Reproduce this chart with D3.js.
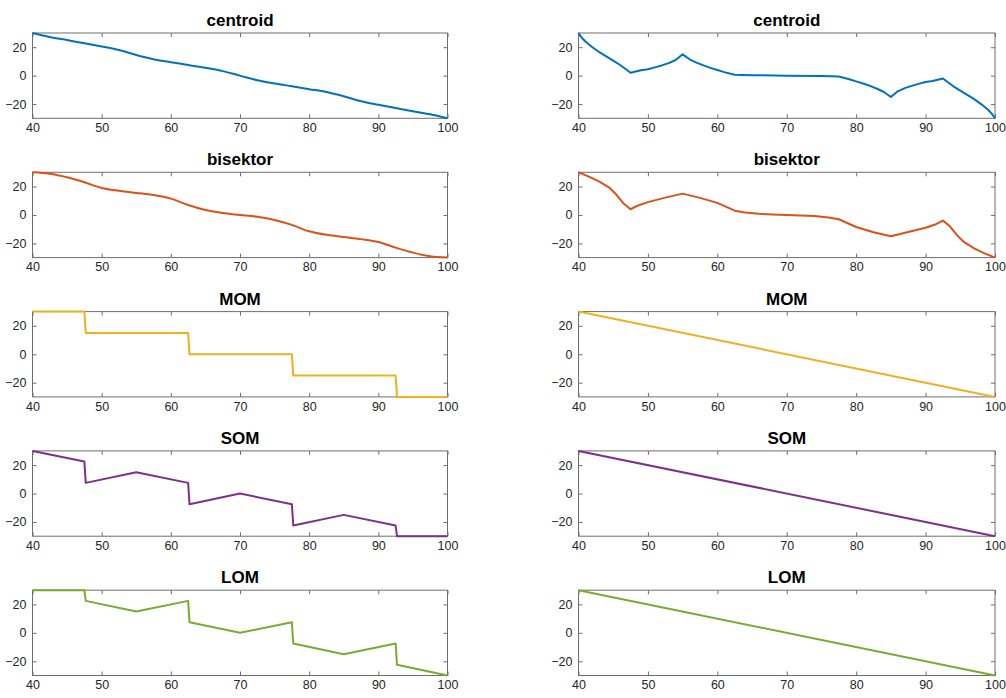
<!DOCTYPE html>
<html>
<head>
<meta charset="utf-8">
<script src="https://cdn.jsdelivr.net/npm/d3@7"></script>
<style>
  html, body { margin: 0; padding: 0; background: #fff; }
  svg { display: block; }
</style>
</head>
<body>
<svg id="chart" width="1006" height="698"></svg>
<script>
// ---- data ----
const titles = ["centroid", "bisektor", "MOM", "SOM", "LOM"];
const colors = ["#0072BD", "#D95319", "#EDB120", "#7E2F8E", "#77AC30"];
const xTicks = [40, 50, 60, 70, 80, 90, 100];
const yTicks = [-20, 0, 20];
const xDomain = [40, 100];
const yDomain = [-30, 30];

// left column
const centroidLeft = [[40,30],[42.5,27.2],[45,25],[47.5,22.8],[50,20.5],[52.5,18],[55,14.5],[57.5,11.5],[60,9.5],[62.5,7.5],[65,5.5],[67.5,3.2],[70,0],[72.5,-3.2],[75,-5.5],[77.5,-7.5],[80,-9.5],[82.5,-11.5],[85,-14.5],[87.5,-18],[90,-20.5],[92.5,-22.8],[95,-25],[97.5,-27.2],[100,-30]];
const bisektorLeft = [[40,30],[42.5,29],[45,26.5],[47.5,23],[50,19],[52.5,17],[55,15.5],[57.5,14],[60,11.5],[62.5,7],[65,3.5],[67.5,1.3],[70,0],[72.5,-1.3],[75,-3.5],[77.5,-7],[80,-11.5],[82.5,-14],[85,-15.5],[87.5,-17],[90,-19],[92.5,-23],[95,-26.5],[97.5,-29],[100,-30]];
const momLeft = [[40,30],[47.5,30],[47.7,15],[62.5,15],[62.7,0],[77.5,0],[77.7,-15],[92.5,-15],[92.7,-30],[100,-30]];
const somLeft = [[40,30],[47.5,22.5],[47.7,7.5],[55,15],[62.5,7.5],[62.7,-7.5],[70,0],[77.5,-7.5],[77.7,-22.5],[85,-15],[92.5,-22.5],[92.7,-30],[100,-30]];
const lomLeft = [[40,30],[47.5,30],[47.7,22.5],[55,15],[62.5,22.5],[62.7,7.5],[70,0],[77.5,7.5],[77.7,-7.5],[85,-15],[92.5,-7.5],[92.7,-22.5],[100,-30]];

// right column
const centroidRight = [[40,30],[40.5,26.5],[41,24],[42,20],[43,16.5],[44,13.5],[45,10.5],[46,7.5],[47.5,2],[49,3.8],[50,4.5],[51,5.8],[52,7.2],[53,8.8],[54,11],[55,15],[56,11.5],[57,9.2],[58,7.2],[59,5.5],[60,4],[61,2.5],[62.5,0.6],[65,0.3],[70,0],[75,-0.3],[77.5,-0.6],[79,-2.5],[80,-4],[81,-5.5],[82,-7.2],[83,-9.2],[84,-11.5],[85,-15],[86,-11],[87,-8.8],[88,-7.2],[89,-5.8],[90,-4.5],[91,-3.8],[92.5,-2],[94,-7.5],[95,-10.5],[96,-13.5],[97,-16.5],[98,-20],[99,-24],[99.5,-26.5],[100,-30]];
const bisektorRight = [[40,30],[41.5,27],[43,23.5],[44.5,19],[45.5,14],[46.5,8],[47.5,4],[48.5,6.5],[50,9],[52.5,12.2],[55,15],[57.5,12],[60,8.5],[62.5,3],[64,1.8],[66,0.8],[68,0.3],[70,0],[72,-0.3],[74,-0.8],[76,-1.8],[77.5,-3],[80,-8.5],[82.5,-12.2],[85,-15],[87.5,-12],[90,-9],[91.5,-6.5],[92.5,-4],[93.5,-8],[94.5,-14],[95.5,-19],[97,-23.5],[98.5,-27],[100,-30]];
const momRight = [[40,30],[100,-30]];
const somRight = [[40,30],[100,-30]];
const lomRight = [[40,30],[100,-30]];

const leftSeries = [centroidLeft, bisektorLeft, momLeft, somLeft, lomLeft];
const rightSeries = [centroidRight, bisektorRight, momRight, somRight, lomRight];
const smoothLeft = [true, true, false, false, false];

// ---- layout ----
const svg = d3.select("#chart");
const colX = [[32.5, 447.5], [578.5, 995]];
const rowTop0 = 33, rowStep = 139.3, axH = 85.3;
const tickLen = 4;
const axisColor = "#6e6e6e";
const labelColor = "#262626";
const font = "'Liberation Sans', Arial, Helvetica, sans-serif";

function drawPanel(col, row, data, smooth) {
  const [x0, x1] = colX[col];
  const y0 = rowTop0 + row * rowStep, y1 = y0 + axH;
  const x = d3.scaleLinear().domain(xDomain).range([x0, x1]);
  const y = d3.scaleLinear().domain(yDomain).range([y1, y0]);
  const g = svg.append("g");

  const xb = g.append("g").attr("transform", `translate(0,${y1})`)
    .call(d3.axisBottom(x).tickValues(xTicks).tickSize(-tickLen).tickPadding(5).tickFormat(d3.format("d")));
  const xt = g.append("g").attr("transform", `translate(0,${y0})`)
    .call(d3.axisTop(x).tickValues(xTicks).tickSize(-tickLen).tickFormat(""));
  const yl = g.append("g").attr("transform", `translate(${x0},0)`)
    .call(d3.axisLeft(y).tickValues(yTicks).tickSize(-tickLen).tickPadding(6).tickFormat(d3.format("d")));
  const yr = g.append("g").attr("transform", `translate(${x1},0)`)
    .call(d3.axisRight(y).tickValues(yTicks).tickSize(-tickLen).tickFormat(""));
  [xb, xt, yl, yr].forEach(a => {
    a.select(".domain").remove();
    a.selectAll(".tick line").attr("stroke", axisColor).attr("stroke-width", 1);
    a.selectAll(".tick text").attr("fill", labelColor).style("font-family", font).style("font-size", "12.5px");
  });

  g.append("rect").attr("x", x0).attr("y", y0).attr("width", x1 - x0).attr("height", y1 - y0)
    .attr("fill", "none").attr("stroke", axisColor).attr("stroke-width", 1);

  const line = d3.line().x(d => x(d[0])).y(d => y(d[1]))
    .curve(smooth ? d3.curveMonotoneX : d3.curveLinear);
  g.append("path").datum(data).attr("d", line)
    .attr("fill", "none").attr("stroke", colors[row]).attr("stroke-width", 2)
    .attr("stroke-linejoin", "round");

  g.append("text").attr("x", (x0 + x1) / 2).attr("y", y0 - 7)
    .attr("text-anchor", "middle").attr("fill", "#000")
    .style("font-family", font).style("font-weight", "bold").style("font-size", "17px")
    .text(titles[row]);
}

for (let r = 0; r < 5; r++) {
  drawPanel(0, r, leftSeries[r], smoothLeft[r]);
  drawPanel(1, r, rightSeries[r], false);
}
</script>
</body>
</html>
